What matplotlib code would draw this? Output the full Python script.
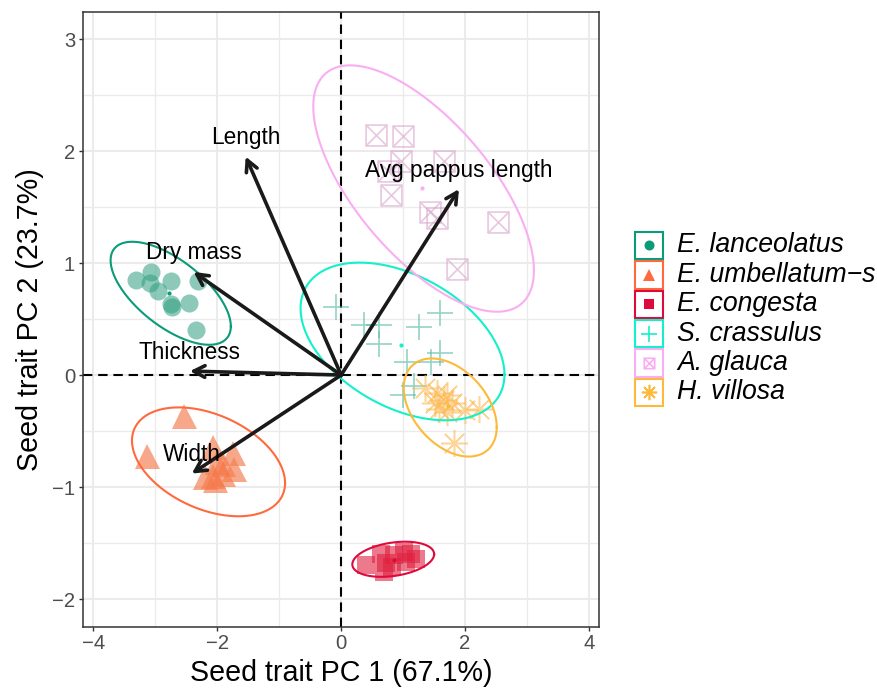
import numpy as np
import matplotlib
matplotlib.use('Agg')
import matplotlib.pyplot as plt
from matplotlib.path import Path
from matplotlib.patches import Rectangle
from matplotlib.lines import Line2D

plt.rcParams['font.family'] = ['Liberation Sans', 'DejaVu Sans']

# ---------------- data ----------------
species = ['E. lanceolatus', 'E. umbellatum\u2212s', 'E. congesta',
           'S. crassulus', 'A. glauca', 'H. villosa']

lanc_x = [-3.31, -3.06, -3.08, -2.96, -2.75, -2.31, -2.75, -2.46, -2.35, -2.73]
lanc_y = [0.85, 0.92, 0.82, 0.75, 0.84, 0.84, 0.63, 0.64, 0.40, 0.61]

umb_x = [-2.54, -3.14, -2.07, -1.74, -1.91, -1.73, -2.07, -2.20, -1.91, -2.04, -2.00]
umb_y = [-0.37, -0.72, -0.64, -0.70, -0.79, -0.84, -0.90, -0.91, -0.88, -0.94, -0.78]

cong_x = [0.40, 0.64, 0.72, 0.69, 0.85, 1.01, 1.12, 1.04, 1.20, 0.82]
cong_y = [-1.70, -1.595, -1.68, -1.76, -1.61, -1.58, -1.595, -1.67, -1.64, -1.715]

cras_x = [-0.09, 0.37, 0.61, 0.61, 1.25, 1.60, 1.07, 1.60, 1.45, 1.17, 1.00]
cras_y = [0.61, 0.45, 0.45, 0.28, 0.43, 0.55, 0.12, 0.20, 0.12, -0.10, -0.18]

glau_x = [0.57, 1.00, 0.96, 0.75, 1.66, 0.80, 1.43, 1.55, 2.53, 1.87]
glau_y = [2.14, 2.13, 1.91, 1.82, 1.91, 1.61, 1.46, 1.40, 1.37, 0.95]

vill_x = [1.36, 1.55, 1.66, 1.71, 1.58, 1.79, 1.71, 2.00, 2.22, 1.82, 1.52]
vill_y = [-0.12, -0.16, -0.22, -0.18, -0.30, -0.25, -0.33, -0.31, -0.30, -0.61, -0.25]

# ellipse summaries: centre, x half-extent, y half-extent, correlation
ell_cx = [-2.75, -2.14, 0.84, 0.99, 1.33, 1.76]
ell_cy = [0.73, -0.775, -1.645, 0.30, 1.665, -0.29]
ell_w = [0.97, 1.235, 0.66, 1.645, 1.78, 0.75]
ell_h = [0.46, 0.486, 0.157, 0.704, 1.10, 0.438]
ell_r = [-0.64, -0.39, 0.29, -0.42, -0.665, -0.40]

# loadings (arrow tips) and labels
load_names = ['Length', 'Avg pappus length', 'Dry mass', 'Thickness', 'Width']
load_x = [-1.54, 1.90, -2.38, -2.44, -2.41]
load_y = [1.95, 1.66, 0.92, 0.035, -0.88]

xlab = 'Seed trait PC 1 (67.1%)'
ylab = 'Seed trait PC 2 (23.7%)'

# ---------------- styles ----------------
line_cols = ['#0A9B78', '#FF6A3D', '#DE0A3E', '#14F0CA', '#FAAEF2', '#FDBA3A']
pt_cols = ['#2E9E80', '#F57A4C', '#E0203F', '#4DB89E', '#D9A3CB', '#FDBA55']
pt_alpha = [0.55, 0.65, 0.6, 0.6, 0.6, 0.6]

boxx = Path([(-1, -1), (1, -1), (1, 1), (-1, 1), (-1, -1),
             (-1, -1), (1, 1), (-1, 1), (1, -1)],
            [Path.MOVETO, Path.LINETO, Path.LINETO, Path.LINETO, Path.CLOSEPOLY,
             Path.MOVETO, Path.LINETO, Path.MOVETO, Path.LINETO])
markers = ['o', '^', 's', '+', boxx, (8, 2, 0)]
msizes = [13, 18, 12.5, 19, 15, 19.5]
mews = [0, 0, 0, 1.2, 1.2, 1.1]
lmsizes = [7.2, 8.8, 7.2, 11, 7.5, 11]

xs = [lanc_x, umb_x, cong_x, cras_x, glau_x, vill_x]
ys = [lanc_y, umb_y, cong_y, cras_y, glau_y, vill_y]

W, H = 878, 690
fig = plt.figure(figsize=(W / 100, H / 100), dpi=100)
L, R, T, B = 82.7, 599, 11.7, 626.7
ax = fig.add_axes([L / W, 1 - B / H, (R - L) / W, (B - T) / H])
ax.set_xlim(-4.17, 4.16)
ax.set_ylim(-2.247, 3.244)

ax.set_xticks([-4, -2, 0, 2, 4])
ax.set_xticks([-3, -1, 1, 3], minor=True)
ax.set_yticks([-2, -1, 0, 1, 2, 3])
ax.set_yticks([-1.5, -0.5, 0.5, 1.5, 2.5], minor=True)
ax.set_xticklabels(['\u22124', '\u22122', '0', '2', '4'])
ax.set_yticklabels(['\u22122', '\u22121', '0', '1', '2', '3'])
ax.grid(True, which='major', color='#EBEBEB', lw=1.5, zorder=0)
ax.grid(True, which='minor', color='#EBEBEB', lw=1.0, zorder=0)
ax.set_axisbelow(True)
ax.tick_params(which='major', length=3, width=1, color='#333333',
               labelsize=14.6, labelcolor='#4D4D4D', pad=2.5)
ax.tick_params(which='minor', length=0)
for s in ax.spines.values():
    s.set_color('#333333')
    s.set_linewidth(1.1)

ax.axhline(0, color='black', lw=1.5, ls=(0, (4.5, 2.8)), zorder=1.5)
ax.axvline(0, color='black', lw=1.5, ls=(0, (4.5, 2.8)), zorder=1.5)

t = np.linspace(0, 2 * np.pi, 300)
for i in range(6):
    mfc = pt_cols[i] if i in (0, 1, 2) else 'none'
    ax.plot(xs[i], ys[i], ls='none', marker=markers[i], ms=msizes[i],
            color=pt_cols[i], mfc=mfc, mec=pt_cols[i] if mfc == 'none' else 'none',
            mew=mews[i], alpha=pt_alpha[i], zorder=2)
    ax.plot([np.mean(xs[i])], [np.mean(ys[i])], ls='none', marker='o', ms=2,
            color=line_cols[i], zorder=2.5)
    ex = ell_cx[i] + ell_w[i] * np.cos(t)
    ey = ell_cy[i] + ell_h[i] * (ell_r[i] * np.cos(t) + np.sqrt(1 - ell_r[i] ** 2) * np.sin(t))
    ax.plot(ex, ey, color=line_cols[i], lw=1.5, zorder=3)

for nm, lx, ly in zip(load_names, load_x, load_y):
    ax.annotate('', xy=(lx, ly), xytext=(0, 0),
                arrowprops=dict(arrowstyle='->,head_length=0.8,head_width=0.42',
                                lw=2.6, color='#1A1A1A', shrinkA=0, shrinkB=0),
                zorder=4)
    ax.text(lx, ly + 0.17, nm, ha='center', va='center', fontsize=16.3,
            color='black', zorder=5)

ax.set_xlabel(xlab, fontsize=20.6, labelpad=4)
ax.set_ylabel(ylab, fontsize=20.6, labelpad=6)

# ---------------- legend ----------------
box = 27.5
pitch = 29.4
top0 = 231.7
for i, name in enumerate(species):
    y0 = top0 + i * pitch
    fig.add_artist(Rectangle((635.3 / W, 1 - (y0 + box) / H), box / W, box / H,
                             transform=fig.transFigure, fill=False,
                             edgecolor=line_cols[i], lw=1.5))
    cx = (635.3 + box / 2) / W
    cy = 1 - (y0 + box / 2) / H
    mfc = line_cols[i] if i in (0, 1, 2) else 'none'
    fig.add_artist(Line2D([cx], [cy], transform=fig.transFigure, ls='none',
                          marker=markers[i], ms=lmsizes[i], color=line_cols[i],
                          mfc=mfc, mec=line_cols[i], mew=1.2 if mfc == 'none' else 0))
    fig.text(677 / W, cy, name, fontsize=19.2, style='italic', va='center', ha='left')

fig.savefig('out.png', dpi=100)
